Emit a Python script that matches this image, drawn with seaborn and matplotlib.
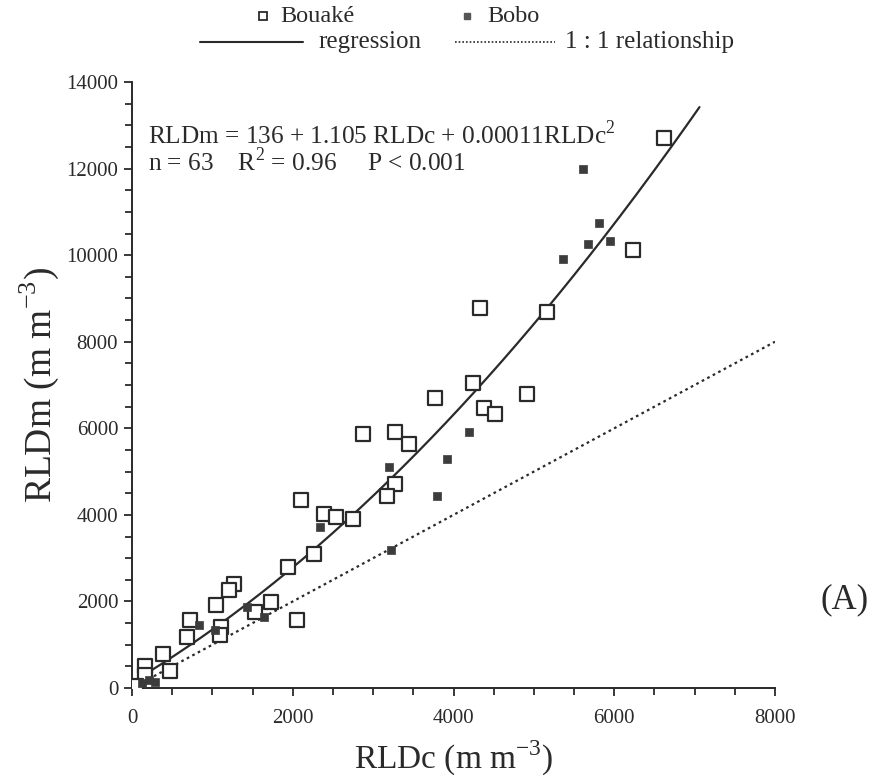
import numpy as np
import pandas as pd
import matplotlib
matplotlib.use("Agg")
import matplotlib.pyplot as plt
from matplotlib.ticker import MultipleLocator
from matplotlib.lines import Line2D
import seaborn as sns

# ---- data ----
bouake_x = [6620, 6230, 5165, 4330, 4920, 4245, 3770, 4380, 4515, 2870,
            3270, 3450, 3270, 3170, 2105, 2390, 2537, 2755, 2265, 1936,
            1270, 1210, 1050, 1730, 1530, 2055, 715, 680, 1110, 1095,
            385, 473, 165, 165, 50]
bouake_y = [12700, 10110, 8690, 8790, 6800, 7040, 6690, 6480, 6340, 5860,
            5920, 5630, 4720, 4430, 4340, 4030, 3957, 3900, 3085, 2800,
            2410, 2270, 1917, 1985, 1750, 1570, 1560, 1180, 1400, 1230,
            795, 390, 515, 300, 40]
bobo_x = [5615, 5810, 5670, 5945, 5365, 4195, 3915, 3195, 3800, 2340,
          3220, 1430, 1640, 835, 1030, 205, 285, 120]
bobo_y = [11985, 10745, 10255, 10330, 9905, 5920, 5280, 5095, 4440, 3725,
          3185, 1860, 1650, 1455, 1345, 185, 145, 108]

# regression coefficients (from the chart text)
reg_a, reg_b, reg_c = 136, 1.105, 0.00011
reg_xmax = 7060
one_to_one_max = 8000

x_ticks = [0, 2000, 4000, 6000, 8000]
y_ticks = [0, 2000, 4000, 6000, 8000, 10000, 12000, 14000]

sns.set_theme(style="ticks")
plt.rcParams['font.family'] = ['Liberation Serif', 'DejaVu Serif']
plt.rcParams['mathtext.fontset'] = 'custom'
plt.rcParams['mathtext.rm'] = 'Liberation Serif'

ink = "#2a2a2a"

fig = plt.figure(figsize=(8.82, 7.82), dpi=100)
ax = fig.add_axes([0.1497, 0.1202, 0.7290, 0.7749])

df_bo = pd.DataFrame({"x": bouake_x, "y": bouake_y})
df_bb = pd.DataFrame({"x": bobo_x, "y": bobo_y})

# 1:1 line
ax.plot([0, one_to_one_max], [0, one_to_one_max], ls=(0, (1.2, 1.6)),
        color=ink, lw=1.6, zorder=2)
# regression curve
xr = np.linspace(0, reg_xmax, 200)
sns.lineplot(x=xr, y=reg_a + reg_b * xr + reg_c * xr ** 2, ax=ax,
             color=ink, lw=1.6, zorder=3)

sns.scatterplot(data=df_bo, x="x", y="y", ax=ax, marker="s", s=95,
                facecolor="white", edgecolor=ink, linewidth=1.6, zorder=4)
sns.scatterplot(data=df_bb, x="x", y="y", ax=ax, marker="s", s=36,
                color="#3c3c3c", edgecolor="#3c3c3c", linewidth=0.5, zorder=5)

ax.set_xlim(0, 8000)
ax.set_ylim(0, 14000)
ax.set_xticks(x_ticks)
ax.set_yticks(y_ticks)
ax.set_xticklabels([str(v) for v in x_ticks])
ax.set_yticklabels([str(v) for v in y_ticks])
ax.xaxis.set_minor_locator(MultipleLocator(500))
ax.yaxis.set_minor_locator(MultipleLocator(500))
ax.tick_params(which="both", direction="out", color=ink, width=1.3,
               labelsize=15, labelcolor=ink)
ax.tick_params(which="major", length=6)
ax.tick_params(which="minor", length=5)
ax.tick_params(axis="x", which="major", pad=9)
ax.tick_params(axis="y", which="major", pad=4)
for side in ["top", "right"]:
    ax.spines[side].set_visible(False)
for side in ["left", "bottom"]:
    ax.spines[side].set_color(ink)
    ax.spines[side].set_linewidth(1.4)

ax.set_xlabel("RLDc (m m$^{-3}$)", fontsize=24, color=ink, labelpad=8)
ax.set_ylabel("RLDm (m m$^{-3}$)", fontsize=27, color=ink, labelpad=4)

ax.text(0.025, 0.912, "RLDm = 136 + 1.105 RLDc + 0.00011RLDc$^{2}$",
        transform=ax.transAxes, fontsize=18.2, color=ink, va="center")
ax.text(0.025, 0.868, "n = 63    R$^{2}$ = 0.96     P < 0.001",
        transform=ax.transAxes, fontsize=18.2, color=ink, va="center")

# legend drawn in figure coordinates
W, H = 882, 782
def fx(px):
    return px / W
def fy(py):
    return 1 - py / H

fig.add_artist(Line2D([fx(263)], [fy(16)], marker="s", ms=6, mfc="white",
                      mec=ink, mew=1.3, ls="none"))
fig.text(fx(280), fy(16), "Bouaké", fontsize=17.5, color=ink, va="center")
fig.add_artist(Line2D([fx(467)], [fy(16)], marker="s", ms=5, mfc="#555",
                      mec="#555", ls="none"))
fig.text(fx(487), fy(16), "Bobo", fontsize=17.5, color=ink, va="center")
fig.add_artist(Line2D([fx(200), fx(303)], [fy(42), fy(42)], color=ink, lw=1.5))
fig.text(fx(318), fy(42), "regression", fontsize=18, color=ink, va="center")
fig.add_artist(Line2D([fx(455), fx(555)], [fy(42), fy(42)], color=ink, lw=1.2,
                      ls=(0, (1, 1.2))))
fig.text(fx(565), fy(42), "1 : 1 relationship", fontsize=18, color=ink, va="center")

fig.text(fx(845), fy(600), "(A)", fontsize=25, color=ink, va="center", ha="center")

fig.savefig("out.png", dpi=100, facecolor="white")
